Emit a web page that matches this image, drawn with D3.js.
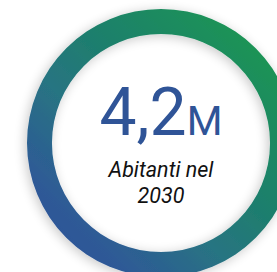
<!DOCTYPE html>
<meta charset="utf-8">
<script src="https://d3js.org/d3.v7.min.js"></script>
<style>
body { margin: 0; background: #fff; }
svg { display: block; }
</style>
<div id="my_dataviz"></div>
<script>

// data
var values = [4.2];
var units = ["M"];
var labels = ["Abitanti nel", "2030"];
var share = [1];   // ring filled fully

var width = 277, height = 272;
var cx = 161, cy = 143, outerR = 134, innerR = 109;

var svg = d3.select("#my_dataviz")
  .append("svg")
    .attr("width", width)
    .attr("height", height);

var defs = svg.append("defs");

// gradient blue -> teal -> green
var grad = defs.append("linearGradient")
    .attr("id", "ringGrad")
    .attr("x1", "0%").attr("y1", "100%")
    .attr("x2", "100%").attr("y2", "0%");
grad.append("stop").attr("offset", "0%").attr("stop-color", "#30509c");
grad.append("stop").attr("offset", "20%").attr("stop-color", "#2e5a96");
grad.append("stop").attr("offset", "40%").attr("stop-color", "#287482");
grad.append("stop").attr("offset", "55%").attr("stop-color", "#1f7d6f");
grad.append("stop").attr("offset", "100%").attr("stop-color", "#1a9e4a");

var shadow = defs.append("filter")
    .attr("id", "shadow")
    .attr("x", "-20%").attr("y", "-20%")
    .attr("width", "140%").attr("height", "140%");
shadow.append("feGaussianBlur").attr("in", "SourceAlpha").attr("stdDeviation", 6);
shadow.append("feOffset").attr("dx", -2).attr("dy", 2).attr("result", "b");
shadow.append("feComponentTransfer").append("feFuncA").attr("type", "linear").attr("slope", 0.22);
var merge = shadow.append("feMerge");
merge.append("feMergeNode");
merge.append("feMergeNode").attr("in", "SourceGraphic");

var g = svg.append("g")
    .attr("transform", "translate(" + cx + "," + cy + ")");

var angle = d3.scaleLinear().domain([0, 1]).range([0, 2 * Math.PI]);

var arc = d3.arc()
    .innerRadius(innerR)
    .outerRadius(outerR)
    .startAngle(0)
    .endAngle(function(d) { return angle(d); });

// white disc
g.append("circle")
    .attr("r", innerR)
    .attr("fill", "#fff");

g.selectAll("path.ring")
  .data(share)
  .enter()
  .append("path")
    .attr("class", "ring")
    .attr("d", arc)
    .attr("fill", "url(#ringGrad)")
    .attr("filter", "url(#shadow)");

// big number
var big = g.append("text")
    .attr("text-anchor", "middle")
    .attr("y", -8)
    .style("font-family", "Roboto")
    .style("fill", "#2f5497");
big.append("tspan")
    .style("font-size", "66px")
    .text(String(values[0]).replace(".", ","));
big.append("tspan")
    .style("font-size", "41px")
    .text(units[0]);

// label
g.selectAll("text.lab")
  .data(labels)
  .enter()
  .append("text")
    .attr("class", "lab")
    .attr("text-anchor", "middle")
    .attr("y", function(d, i) { return 34 + i * 26; })
    .style("font-family", "Roboto")
    .style("font-style", "italic")
    .style("font-size", "21.5px")
    .style("fill", "#111")
    .text(function(d) { return d; });

</script>
